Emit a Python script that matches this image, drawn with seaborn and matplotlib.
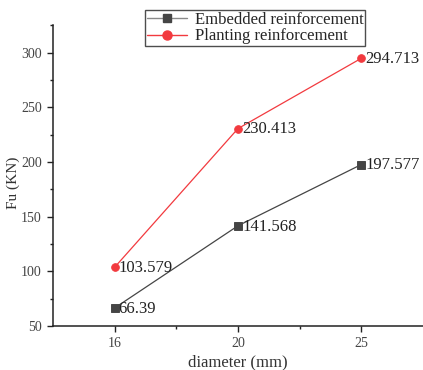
import matplotlib
matplotlib.use("Agg")
import matplotlib.pyplot as plt
import seaborn as sns
import pandas as pd
from matplotlib.ticker import MultipleLocator

# Ultimate load Fu (kN) for each bar diameter
diameters = ["16", "20", "25"]
embedded = [66.39, 141.568, 197.577]
planting = [103.579, 230.413, 294.713]
series_names = ["Embedded reinforcement", "Planting reinforcement"]

df = pd.DataFrame({
    "diameter": diameters * 2,
    "Fu": embedded + planting,
    "series": [series_names[0]] * 3 + [series_names[1]] * 3,
})

sns.set_theme(style="ticks")
serif = ["Liberation Serif", "DejaVu Serif"]

fig = plt.figure(figsize=(4.23, 3.70), dpi=100)
ax = fig.add_axes([0.125, 0.119, 0.875, 0.813])

colors = {series_names[0]: "#454545", series_names[1]: "#F23A3F"}
sns.pointplot(
    data=df, x="diameter", y="Fu", hue="series", order=diameters,
    hue_order=series_names, palette=colors, markers=["s", "o"],
    linestyles=["-", "-"], errorbar=None, ax=ax,
    markersize=5.5, linewidth=0.9, legend=False,
)

# Value labels to the right of each point
for vals in (embedded, planting):
    for i, v in enumerate(vals):
        ax.annotate(f"{v:g}", (i, v), xytext=(3, -0.5),
                    textcoords="offset points", va="center", ha="left",
                    fontsize=12, family=serif, color="#222222")

ax.set_xlim(-0.5, 2.5)
ax.set_ylim(50, 325)
ax.yaxis.set_major_locator(MultipleLocator(50))
ax.yaxis.set_minor_locator(MultipleLocator(25))
ax.set_xticks([0.5, 1.5], minor=True)
for side in ("top", "right"):
    ax.spines[side].set_visible(False)
for side in ("left", "bottom"):
    ax.spines[side].set_color("#222222")
    ax.spines[side].set_linewidth(1.1)
ax.tick_params(which="major", direction="out", length=4, width=1, color="#222222",
               labelsize=10, labelcolor="#444444", pad=4)
ax.tick_params(which="minor", direction="out", length=2.5, width=1, color="#222222")
for lab in ax.get_xticklabels() + ax.get_yticklabels():
    lab.set_family(serif)

ax.set_xlabel("diameter (mm)", family=serif, fontsize=12, color="#333333", labelpad=3)
ax.set_ylabel("Fu (KN)", family=serif, fontsize=11, color="#333333")
ax.yaxis.set_label_coords(-0.09, 0.475)

handles = [
    plt.Line2D([], [], color="#8a8a8a", marker="s", markersize=5.5,
               markerfacecolor=colors[series_names[0]],
               markeredgecolor=colors[series_names[0]], linewidth=1.0),
    plt.Line2D([], [], color=colors[series_names[1]], marker="o", markersize=6.5,
               linewidth=1.0),
]
leg = fig.legend(handles, series_names, loc="upper left",
                 bbox_to_anchor=(145 / 423, 1 - 10 / 370),
                 bbox_transform=fig.transFigure, frameon=True, fancybox=False,
                 prop={"family": serif, "size": 12}, handlelength=2.4,
                 borderpad=0.1, labelspacing=0.05, handletextpad=0.5,
                 borderaxespad=0)
leg.get_frame().set_edgecolor("#222222")
leg.get_frame().set_linewidth(1.0)

fig.savefig("out.png", dpi=100)
